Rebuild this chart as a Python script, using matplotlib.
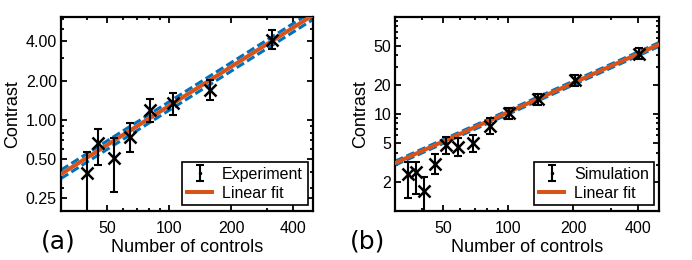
import numpy as np
import matplotlib.pyplot as plt
from matplotlib.ticker import FixedLocator, FixedFormatter, LogLocator, NullFormatter

plt.rcParams['font.family'] = ['Liberation Sans', 'DejaVu Sans']

# (a) experiment
a_n = [40, 45.5, 54, 65, 81, 105, 158, 317]
a_c = [0.39, 0.66, 0.51, 0.745, 1.19, 1.34, 1.70, 4.09]
a_hi = [0.57, 0.85, 0.725, 0.945, 1.45, 1.62, 2.02, 4.87]
a_lo = [0.15, 0.453, 0.278, 0.563, 0.97, 1.09, 1.42, 3.49]
a_slope = 0.0128      # contrast per control
a_band = 0.075        # relative fit uncertainty

# (b) simulation
b_n = [34.5, 37.4, 40.6, 45.7, 51.4, 58.6, 69, 82, 100.5, 137, 203, 404]
b_c = [2.41, 2.51, 1.59, 3.02, 4.77, 4.58, 5.05, 7.55, 10.2, 14.1, 22.3, 41.7]
b_hi = [3.19, 3.19, 2.22, 3.85, 5.74, 5.61, 6.07, 9.08, 11.6, 15.9, 25.2, 47.8]
b_lo = [1.37, 1.49, 0.8, 2.41, 3.85, 3.66, 4.06, 6.22, 8.87, 12.2, 19.2, 36.4]
b_slope = 0.104
b_band = 0.045

x_ticks = [50, 100, 200, 400]
a_yticks = [0.25, 0.5, 1, 2, 4]
a_ylabels = ["0.25", "0.50", "1.00", "2.00", "4.00"]
b_yticks = [2, 5, 10, 20, 50]
b_ylabels = ["2", "5", "10", "20", "50"]

blue = "#0072BD"
orange = "#D95319"

fig = plt.figure(figsize=(6.92, 2.6), dpi=100)
ax_a = fig.add_axes([61 / 692, 49 / 260, 252.3 / 692, 194.3 / 260])
ax_b = fig.add_axes([395.3 / 692, 49 / 260, 264 / 692, 194.3 / 260])


def panel(ax, n, c, lo, hi, slope, band, label, ylim, yticks, ylabels):
    n = np.array(n)
    c = np.array(c)
    yerr = [c - np.array(lo), np.array(hi) - c]
    nn = np.array([30, 500])
    ax.plot(nn, slope * (1 + band) * nn, ls="--", color=blue, lw=2.2, dashes=(2.8, 1.2), zorder=2)
    ax.plot(nn, slope * (1 - band) * nn, ls="--", color=blue, lw=2.2, dashes=(2.8, 1.2), zorder=2)
    ax.plot(nn, slope * nn, color=orange, lw=2.9, label="Linear fit", zorder=3)
    ax.errorbar(n, c, yerr=yerr, fmt=".", color="black", ms=3, elinewidth=1.5,
                capsize=2.8, capthick=1.5, label=label, zorder=4)
    ax.plot(n, c, "x", color="black", ms=9, mew=1.8, zorder=5)

    ax.set_xscale("log")
    ax.set_yscale("log")
    ax.set_xlim(30, 500)
    ax.set_ylim(*ylim)
    ax.xaxis.set_major_locator(FixedLocator(x_ticks))
    ax.xaxis.set_major_formatter(FixedFormatter([str(t) for t in x_ticks]))
    ax.xaxis.set_minor_locator(LogLocator(subs=np.arange(1, 10)))
    ax.xaxis.set_minor_formatter(NullFormatter())
    ax.yaxis.set_major_locator(FixedLocator(yticks))
    ax.yaxis.set_major_formatter(FixedFormatter(ylabels))
    ax.yaxis.set_minor_locator(LogLocator(subs=np.arange(1, 10)))
    ax.yaxis.set_minor_formatter(NullFormatter())

    ax.tick_params(which="both", direction="in", top=True, right=True, width=1.3, labelsize=11.5)
    ax.tick_params(which="major", length=4)
    ax.tick_params(which="minor", length=2.3)
    ax.tick_params(axis="x", pad=7)
    ax.tick_params(axis="y", pad=3)
    for s in ax.spines.values():
        s.set_linewidth(1.6)

    ax.set_xlabel("Number of controls", fontsize=13, labelpad=2)
    ax.set_ylabel("Contrast", fontsize=13, labelpad=3)

    handles, labels = ax.get_legend_handles_labels()
    leg = ax.legend(handles[::-1], labels[::-1], loc="lower right", fontsize=11.5,
                    frameon=True, fancybox=False, framealpha=1, edgecolor="black",
                    handlelength=1.6, borderaxespad=0.35, labelspacing=0.25,
                    handletextpad=0.6, borderpad=0.3)
    leg.get_frame().set_linewidth(1.2)


panel(ax_a, a_n, a_c, a_lo, a_hi, a_slope, a_band, "Experiment", (0.2, 6.2), a_yticks, a_ylabels)
panel(ax_b, b_n, b_c, b_lo, b_hi, b_slope, b_band, "Simulation", (1, 100), b_yticks, b_ylabels)

fig.text(41 / 692, 1 - 242 / 260, "(a)", fontsize=18, family="DejaVu Sans", va="center")
fig.text(350 / 692, 1 - 242 / 260, "(b)", fontsize=18, family="DejaVu Sans", va="center")

fig.savefig("out.png", dpi=100)
